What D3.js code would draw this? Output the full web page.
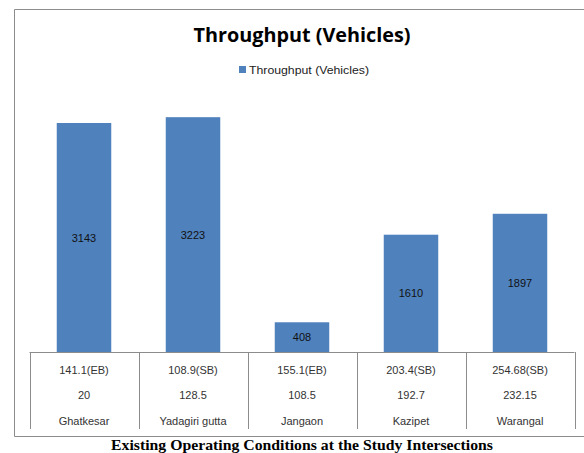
<!DOCTYPE html>
<html>
<head>
<meta charset="utf-8">
<script src="https://cdn.jsdelivr.net/npm/d3@7"></script>
<style>
  body { margin: 0; background: #fff; }
  svg { display: block; }
</style>
</head>
<body>
<script>
// data
const sites = ["Ghatkesar", "Yadagiri gutta", "Jangaon", "Kazipet", "Warangal"];
const throughput = [3143, 3223, 408, 1610, 1897];
const rowDelay = ["141.1(EB)", "108.9(SB)", "155.1(EB)", "203.4(SB)", "254.68(SB)"];
const rowSecond = ["20", "128.5", "108.5", "192.7", "232.15"];

let width = 584,
    height = 453;

const svg = d3.select('body').append('svg')
    .attr('width', width)
    .attr('height', height);

// outer chart frame (runs off the right edge)
svg.append('path')
    .attr('d', 'M600,9.5 H14.5 V436.5 H600')
    .attr('fill', 'none')
    .attr('stroke', '#8c8c8c')
    .attr('stroke-width', 1);

// scales
const x = d3.scaleBand()
    .domain(sites)
    .range([29.5, 574.5])
    .paddingInner(0)
    .paddingOuter(0);

const y = d3.scaleLinear()
    .domain([0, 3500])
    .range([352, 97]);

const barPad = 0.25;

// bars
svg.selectAll('rect.bar')
    .data(throughput)
    .enter()
    .append('rect')
    .attr('class', 'bar')
    .attr('x', (d, i) => x(sites[i]) + x.bandwidth() * barPad)
    .attr('width', x.bandwidth() * (1 - 2 * barPad))
    .attr('y', d => y(d))
    .attr('height', d => y(0) - y(d))
    .attr('fill', '#4f81bd');

// value labels in the middle of the bars
svg.selectAll('text.val')
    .data(throughput)
    .enter()
    .append('text')
    .attr('class', 'val')
    .attr('x', (d, i) => x(sites[i]) + x.bandwidth() / 2)
    .attr('y', d => (y(d) + y(0)) / 2 + 4)
    .attr('text-anchor', 'middle')
    .style('font-family', 'Liberation Sans, Arial, sans-serif')
    .style('font-size', '11px')
    .attr('fill', '#111')
    .text(d => d);

// data table under the bars
const table = svg.append('g');

table.append('line')
    .attr('x1', 29.5).attr('x2', 574.5)
    .attr('y1', 352.5).attr('y2', 352.5)
    .attr('stroke', '#8c8c8c');

const edges = sites.map(s => x(s)).concat([x.range()[1]]);
table.selectAll('line.sep')
    .data(edges)
    .enter()
    .append('line')
    .attr('class', 'sep')
    .attr('x1', d => Math.round(d) + 0.5).attr('x2', d => Math.round(d) + 0.5)
    .attr('y1', 352).attr('y2', 429)
    .attr('stroke', '#8c8c8c');

const rows = [rowDelay, rowSecond, sites];
const rowY = [374, 399, 425];

rows.forEach((row, r) => {
    table.selectAll('text.r' + r)
        .data(row)
        .enter()
        .append('text')
        .attr('class', 'r' + r)
        .attr('x', (d, i) => x(sites[i]) + x.bandwidth() / 2)
        .attr('y', rowY[r])
        .attr('text-anchor', 'middle')
        .style('font-family', 'Liberation Sans, Arial, sans-serif')
        .style('font-size', '11px')
        .attr('fill', '#333')
        .text(d => d);
});

// title
svg.append('text')
    .attr('x', 302)
    .attr('y', 42)
    .attr('text-anchor', 'middle')
    .style('font-family', 'Open Sans, Liberation Sans, sans-serif')
    .style('font-weight', 'bold')
    .style('font-size', '20px')
    .attr('textLength', 217)
    .attr('lengthAdjust', 'spacingAndGlyphs')
    .attr('fill', '#000')
    .text('Throughput (Vehicles)');

// legend
const legend = svg.append('g');
legend.append('rect')
    .attr('x', 239).attr('y', 66)
    .attr('width', 7).attr('height', 7)
    .attr('fill', '#4f81bd');
legend.append('text')
    .attr('x', 249)
    .attr('y', 73.5)
    .style('font-family', 'Liberation Sans, Arial, sans-serif')
    .style('font-size', '11px')
    .attr('textLength', 120)
    .attr('lengthAdjust', 'spacingAndGlyphs')
    .attr('fill', '#222')
    .text('Throughput (Vehicles)');

// caption
svg.append('text')
    .attr('x', 302)
    .attr('y', 450)
    .attr('text-anchor', 'middle')
    .style('font-family', 'Liberation Serif, Times New Roman, serif')
    .style('font-weight', 'bold')
    .style('font-size', '15px')
    .attr('textLength', 382)
    .attr('lengthAdjust', 'spacingAndGlyphs')
    .attr('fill', '#000')
    .text('Existing Operating Conditions at the Study Intersections');
</script>
</body>
</html>
